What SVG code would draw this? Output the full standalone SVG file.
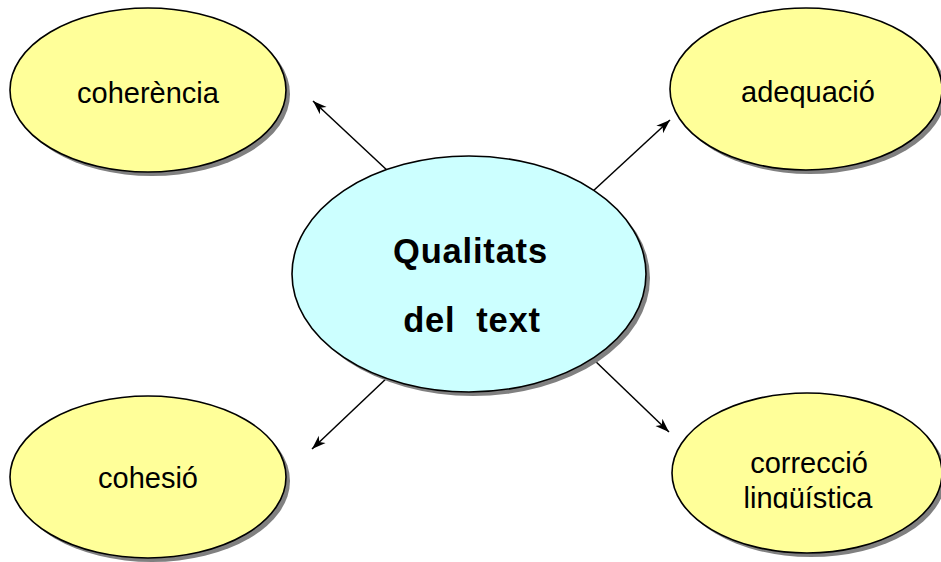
<svg xmlns="http://www.w3.org/2000/svg" width="941" height="562" viewBox="0 0 941 562">
  <style>
    .shadow { fill: #808080; }
    .yellow { fill: #FFFF99; stroke: #000; stroke-width: 1.6; }
    .cyan { fill: #CCFFFF; stroke: #000; stroke-width: 1.6; }
    .lbl { font-family: "Liberation Sans", Arial, sans-serif; font-size: 29px; fill: #000; text-anchor: middle; }
    .main { font-family: "Liberation Sans", Arial, sans-serif; font-size: 34.5px; font-weight: bold; fill: #000; text-anchor: middle; letter-spacing: 0.8px; }
    .conn { stroke: #000; stroke-width: 1.5; fill: none; marker-end: url(#arr); }
  </style>
  <defs>
    <marker id="arr" markerUnits="userSpaceOnUse" markerWidth="16" markerHeight="12" viewBox="0 0 16 12" refX="14" refY="6" orient="auto">
      <path d="M0,1 L14,6 L0,11 L4,6 Z" fill="#000"/>
    </marker>
    <clipPath id="clipDel"><rect x="0" y="0" width="941" height="332.5"/></clipPath>
    <clipPath id="clipLing"><rect x="0" y="0" width="941" height="508.5"/></clipPath>
  </defs>
  <rect width="941" height="562" fill="#fff"/>

  <g id="connectors">
    <line class="conn" x1="389" y1="172" x2="313" y2="101"/>
    <line class="conn" x1="592" y1="192" x2="670" y2="120"/>
    <line class="conn" x1="389" y1="376" x2="312" y2="449"/>
    <line class="conn" x1="592" y1="358" x2="669" y2="432"/>
  </g>

  <g id="node-coherencia">
    <ellipse class="shadow" cx="152" cy="94" rx="138" ry="82"/>
    <ellipse class="yellow" cx="148" cy="90" rx="138" ry="82"/>
    <text class="lbl" x="148" y="103">coherència</text>
  </g>

  <g id="node-adequacio">
    <ellipse class="shadow" cx="810" cy="93" rx="136" ry="81"/>
    <ellipse class="yellow" cx="806" cy="89" rx="136" ry="81"/>
    <text class="lbl" x="808" y="102">adequació</text>
  </g>

  <g id="node-cohesio">
    <ellipse class="shadow" cx="152" cy="481" rx="138" ry="81"/>
    <ellipse class="yellow" cx="148" cy="477" rx="138" ry="81"/>
    <text class="lbl" x="148" y="488">cohesió</text>
  </g>

  <g id="node-correccio">
    <ellipse class="shadow" cx="811" cy="477" rx="135" ry="80"/>
    <ellipse class="yellow" cx="807" cy="473" rx="135" ry="80"/>
    <text class="lbl" x="809" y="473">correcció</text>
    <text class="lbl" x="808" y="508" clip-path="url(#clipLing)">lingüística</text>
  </g>

  <g id="node-qualitats">
    <ellipse class="shadow" cx="473" cy="278" rx="177" ry="118"/>
    <ellipse class="cyan" cx="469" cy="274" rx="177" ry="118"/>
    <text class="main" x="470.5" y="263">Qualitats</text>
    <text class="main" x="472" y="332" clip-path="url(#clipDel)" xml:space="preserve">del  text</text>
  </g>
</svg>
